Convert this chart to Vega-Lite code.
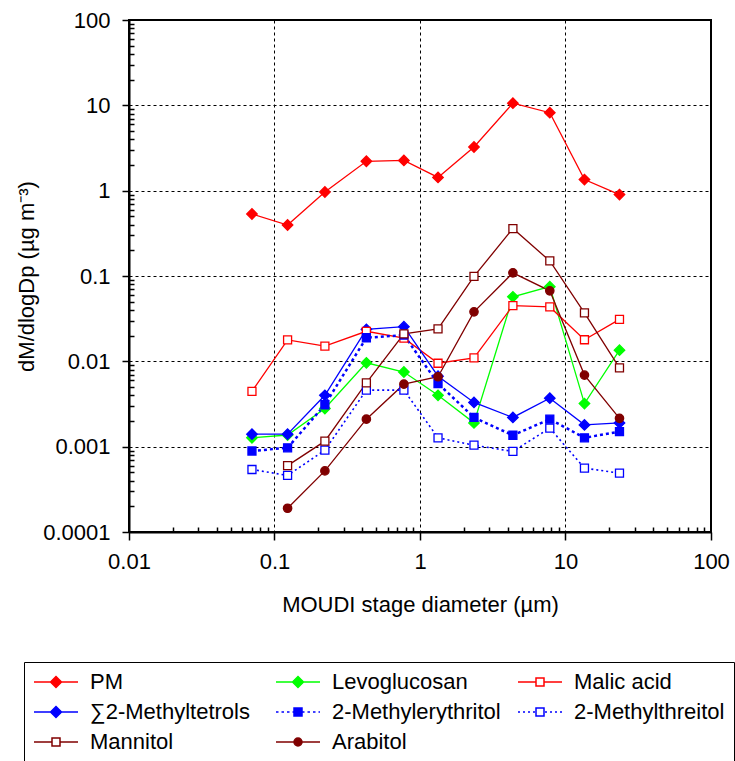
{
  "$schema": "https://vega.github.io/schema/vega-lite/v6.json",
  "autosize": {"type": "none"},
  "padding": {"left": 129, "top": 20, "right": 24, "bottom": 229},
  "width": 582,
  "height": 512,
  "background": "white",
  "config": {
    "font": "Liberation Sans",
    "view": {"stroke": "black", "strokeWidth": 2},
    "axis": {
      "labelFont": "Liberation Sans", "labelFontSize": 22, "labelColor": "black",
      "titleFont": "Liberation Sans", "titleFontSize": 22, "titleFontWeight": "normal", "titleColor": "black",
      "domainColor": "black", "domainWidth": 2, "tickColor": "black", "tickWidth": 1.5
    },
    "legend": {"labelFont": "Liberation Sans", "labelFontSize": 22, "labelColor": "black"}
  },
  "data": {"values": [
    {"s": "PM", "d": 0.07, "v": 0.533}, {"s": "PM", "d": 0.123, "v": 0.396}, {"s": "PM", "d": 0.222, "v": 0.965}, {"s": "PM", "d": 0.428, "v": 2.21}, {"s": "PM", "d": 0.775, "v": 2.26}, {"s": "PM", "d": 1.33, "v": 1.43}, {"s": "PM", "d": 2.35, "v": 3.25}, {"s": "PM", "d": 4.35, "v": 10.6}, {"s": "PM", "d": 7.8, "v": 8.2}, {"s": "PM", "d": 13.5, "v": 1.35}, {"s": "PM", "d": 23.5, "v": 0.9},
    {"s": "Levoglucosan", "d": 0.07, "v": 0.00127}, {"s": "Levoglucosan", "d": 0.123, "v": 0.00137}, {"s": "Levoglucosan", "d": 0.222, "v": 0.0028}, {"s": "Levoglucosan", "d": 0.428, "v": 0.0096}, {"s": "Levoglucosan", "d": 0.775, "v": 0.0075}, {"s": "Levoglucosan", "d": 1.33, "v": 0.004}, {"s": "Levoglucosan", "d": 2.35, "v": 0.0019}, {"s": "Levoglucosan", "d": 4.35, "v": 0.057}, {"s": "Levoglucosan", "d": 7.8, "v": 0.075}, {"s": "Levoglucosan", "d": 13.5, "v": 0.0032}, {"s": "Levoglucosan", "d": 23.5, "v": 0.0135},
    {"s": "Malic acid", "d": 0.07, "v": 0.00445}, {"s": "Malic acid", "d": 0.123, "v": 0.0178}, {"s": "Malic acid", "d": 0.222, "v": 0.0151}, {"s": "Malic acid", "d": 0.428, "v": 0.0225}, {"s": "Malic acid", "d": 0.775, "v": 0.0187}, {"s": "Malic acid", "d": 1.33, "v": 0.0095}, {"s": "Malic acid", "d": 2.35, "v": 0.011}, {"s": "Malic acid", "d": 4.35, "v": 0.045}, {"s": "Malic acid", "d": 7.8, "v": 0.0434}, {"s": "Malic acid", "d": 13.5, "v": 0.0179}, {"s": "Malic acid", "d": 23.5, "v": 0.031},
    {"s": "∑2-Methyltetrols", "d": 0.07, "v": 0.0014}, {"s": "∑2-Methyltetrols", "d": 0.123, "v": 0.0014}, {"s": "∑2-Methyltetrols", "d": 0.222, "v": 0.004}, {"s": "∑2-Methyltetrols", "d": 0.428, "v": 0.0237}, {"s": "∑2-Methyltetrols", "d": 0.775, "v": 0.0255}, {"s": "∑2-Methyltetrols", "d": 1.33, "v": 0.0067}, {"s": "∑2-Methyltetrols", "d": 2.35, "v": 0.0033}, {"s": "∑2-Methyltetrols", "d": 4.35, "v": 0.0022}, {"s": "∑2-Methyltetrols", "d": 7.8, "v": 0.0037}, {"s": "∑2-Methyltetrols", "d": 13.5, "v": 0.0018}, {"s": "∑2-Methyltetrols", "d": 23.5, "v": 0.0019},
    {"s": "2-Methylerythritol", "d": 0.07, "v": 0.00089}, {"s": "2-Methylerythritol", "d": 0.123, "v": 0.00097}, {"s": "2-Methylerythritol", "d": 0.222, "v": 0.0031}, {"s": "2-Methylerythritol", "d": 0.428, "v": 0.0189}, {"s": "2-Methylerythritol", "d": 0.775, "v": 0.0203}, {"s": "2-Methylerythritol", "d": 1.33, "v": 0.0055}, {"s": "2-Methylerythritol", "d": 2.35, "v": 0.0022}, {"s": "2-Methylerythritol", "d": 4.35, "v": 0.00136}, {"s": "2-Methylerythritol", "d": 7.8, "v": 0.0021}, {"s": "2-Methylerythritol", "d": 13.5, "v": 0.00127}, {"s": "2-Methylerythritol", "d": 23.5, "v": 0.0015},
    {"s": "2-Methylthreitol", "d": 0.07, "v": 0.00054}, {"s": "2-Methylthreitol", "d": 0.123, "v": 0.00046}, {"s": "2-Methylthreitol", "d": 0.222, "v": 0.00091}, {"s": "2-Methylthreitol", "d": 0.428, "v": 0.0046}, {"s": "2-Methylthreitol", "d": 0.775, "v": 0.0046}, {"s": "2-Methylthreitol", "d": 1.33, "v": 0.00127}, {"s": "2-Methylthreitol", "d": 2.35, "v": 0.00104}, {"s": "2-Methylthreitol", "d": 4.35, "v": 0.00088}, {"s": "2-Methylthreitol", "d": 7.8, "v": 0.00165}, {"s": "2-Methylthreitol", "d": 13.5, "v": 0.00056}, {"s": "2-Methylthreitol", "d": 23.5, "v": 0.00049},
    {"s": "Mannitol", "d": 0.123, "v": 0.0006}, {"s": "Mannitol", "d": 0.222, "v": 0.00116}, {"s": "Mannitol", "d": 0.428, "v": 0.0056}, {"s": "Mannitol", "d": 0.775, "v": 0.021}, {"s": "Mannitol", "d": 1.33, "v": 0.024}, {"s": "Mannitol", "d": 2.35, "v": 0.099}, {"s": "Mannitol", "d": 4.35, "v": 0.36}, {"s": "Mannitol", "d": 7.8, "v": 0.15}, {"s": "Mannitol", "d": 13.5, "v": 0.037}, {"s": "Mannitol", "d": 23.5, "v": 0.0084},
    {"s": "Arabitol", "d": 0.123, "v": 0.00019}, {"s": "Arabitol", "d": 0.222, "v": 0.00052}, {"s": "Arabitol", "d": 0.428, "v": 0.0021}, {"s": "Arabitol", "d": 0.775, "v": 0.0054}, {"s": "Arabitol", "d": 1.33, "v": 0.0066}, {"s": "Arabitol", "d": 2.35, "v": 0.038}, {"s": "Arabitol", "d": 4.35, "v": 0.109}, {"s": "Arabitol", "d": 7.8, "v": 0.067}, {"s": "Arabitol", "d": 13.5, "v": 0.0069}, {"s": "Arabitol", "d": 23.5, "v": 0.00215}
  ]},
  "resolve": {"scale": {"x": "independent", "y": "independent"}, "axis": {"x": "independent", "y": "independent"}},
  "layer": [
    {
      "layer": [
        {
          "transform": [{"filter": {"field": "s", "oneOf": ["PM", "Levoglucosan", "Malic acid", "∑2-Methyltetrols", "Mannitol", "Arabitol"]}}],
          "mark": {"type": "line", "strokeWidth": 1.3},
          "encoding": {
            "x": {"field": "d", "type": "quantitative", "scale": {"type": "log", "domain": [0.01, 100], "nice": false},
                  "axis": {"orient": "bottom", "values": [0.01, 0.1, 1, 10, 100], "format": "~g", "title": "MOUDI stage diameter (µm)",
                           "grid": true, "gridColor": "black", "gridDash": [3, 3], "gridWidth": 1, "tickSize": 8, "labelPadding": 11, "titlePadding": 22, "labelFlush": false}},
            "y": {"field": "v", "type": "quantitative", "scale": {"type": "log", "domain": [0.0001, 100], "nice": false},
                  "axis": {"orient": "left", "values": [0.0001, 0.001, 0.01, 0.1, 1, 10, 100], "format": "~g", "title": "dM/dlogDp (µg m⁻³)",
                           "grid": true, "gridColor": "black", "gridDash": [3, 3], "gridWidth": 1, "tickSize": 7, "labelPadding": 12, "titlePadding": 4, "labelFlush": false}},
            "stroke": {"field": "s", "type": "nominal",
                       "scale": {"domain": ["PM", "Levoglucosan", "Malic acid", "∑2-Methyltetrols", "2-Methylerythritol", "2-Methylthreitol", "Mannitol", "Arabitol"],
                                 "range": ["#FF0000", "#00FF00", "#FF0000", "#0000FF", "#0000FF", "#0000FF", "#800000", "#800000"]}}
          }
        },
        {
          "transform": [{"filter": {"field": "s", "equal": "2-Methylerythritol"}}],
          "mark": {"type": "line", "strokeWidth": 2.5, "strokeDash": [3, 3]},
          "encoding": {
            "x": {"field": "d", "type": "quantitative"},
            "y": {"field": "v", "type": "quantitative"},
            "stroke": {"field": "s", "type": "nominal"}
          }
        },
        {
          "transform": [{"filter": {"field": "s", "equal": "2-Methylthreitol"}}],
          "mark": {"type": "line", "strokeWidth": 1.6, "strokeDash": [2, 3]},
          "encoding": {
            "x": {"field": "d", "type": "quantitative"},
            "y": {"field": "v", "type": "quantitative"},
            "stroke": {"field": "s", "type": "nominal"}
          }
        },
        {
          "transform": [{"filter": {"field": "s", "oneOf": ["PM", "Levoglucosan", "∑2-Methyltetrols"]}}],
          "mark": {"type": "point", "shape": "diamond", "size": 110, "filled": true, "strokeWidth": 1.3, "opacity": 1},
          "encoding": {
            "x": {"field": "d", "type": "quantitative"},
            "y": {"field": "v", "type": "quantitative"},
            "stroke": {"field": "s", "type": "nominal"},
            "fill": {"field": "s", "type": "nominal",
                     "scale": {"domain": ["PM", "Levoglucosan", "Malic acid", "∑2-Methyltetrols", "2-Methylerythritol", "2-Methylthreitol", "Mannitol", "Arabitol"],
                               "range": ["#FF0000", "#00FF00", "#FFFFFF", "#0000FF", "#0000FF", "#FFFFFF", "#FFFFFF", "#800000"]}}
          }
        },
        {
          "transform": [{"filter": {"field": "s", "oneOf": ["Malic acid", "2-Methylerythritol", "2-Methylthreitol", "Mannitol"]}}],
          "mark": {"type": "point", "shape": "square", "size": 64, "filled": true, "strokeWidth": 1.3, "opacity": 1},
          "encoding": {
            "x": {"field": "d", "type": "quantitative"},
            "y": {"field": "v", "type": "quantitative"},
            "stroke": {"field": "s", "type": "nominal"},
            "fill": {"field": "s", "type": "nominal"}
          }
        },
        {
          "transform": [{"filter": {"field": "s", "equal": "Arabitol"}}],
          "mark": {"type": "point", "shape": "circle", "size": 70, "filled": true, "strokeWidth": 1.3, "opacity": 1},
          "encoding": {
            "x": {"field": "d", "type": "quantitative"},
            "y": {"field": "v", "type": "quantitative"},
            "stroke": {"field": "s", "type": "nominal"},
            "fill": {"field": "s", "type": "nominal"}
          }
        }
      ]
    },
    {
      "mark": {"type": "point", "filled": true, "strokeWidth": 1.5, "fillOpacity": 0, "strokeOpacity": 0, "size": 400},
      "encoding": {
        "x": {"field": "d", "type": "quantitative", "scale": {"type": "log", "domain": [0.01, 100], "nice": false},
              "axis": {"orient": "top", "offset": -512, "values": [0.02, 0.03, 0.04, 0.05, 0.06, 0.07, 0.08, 0.09, 0.2, 0.3, 0.4, 0.5, 0.6, 0.7, 0.8, 0.9, 2, 3, 4, 5, 6, 7, 8, 9, 20, 30, 40, 50, 60, 70, 80, 90],
                       "labels": false, "domain": false, "grid": false, "ticks": true, "tickSize": 5, "tickColor": "#000000", "tickOpacity": 1, "tickWidth": 1.5, "zindex": 2, "title": null}},
        "y": {"field": "v", "type": "quantitative", "scale": {"type": "log", "domain": [0.0001, 100], "nice": false},
              "axis": {"orient": "right", "offset": -582, "values": [0.0002, 0.0003, 0.0004, 0.0005, 0.0006, 0.0007, 0.0008, 0.0009, 0.002, 0.003, 0.004, 0.005, 0.006, 0.007, 0.008, 0.009, 0.02, 0.03, 0.04, 0.05, 0.06, 0.07, 0.08, 0.09, 0.2, 0.3, 0.4, 0.5, 0.6, 0.7, 0.8, 0.9, 2, 3, 4, 5, 6, 7, 8, 9, 20, 30, 40, 50, 60, 70, 80, 90],
                       "labels": false, "domain": false, "grid": false, "ticks": true, "tickSize": 5, "tickColor": "#000000", "tickOpacity": 1, "tickWidth": 1.5, "zindex": 2, "title": null}},
        "stroke": {"field": "s", "type": "nominal"},
        "fill": {"field": "s", "type": "nominal"},
        "shape": {"field": "s", "type": "nominal",
                  "scale": {"domain": ["PM", "Levoglucosan", "Malic acid", "∑2-Methyltetrols", "2-Methylerythritol", "2-Methylthreitol", "Mannitol", "Arabitol"],
                            "range": [
                              "M-1,0H3.4M0.65,0L1.2,-0.55L1.75,0L1.2,0.55Z",
                              "M-1,0H3.4M0.65,0L1.2,-0.55L1.75,0L1.2,0.55Z",
                              "M-1,0H0.8M1.6,0H3.4M0.8,-0.4H1.6V0.4H0.8Z",
                              "M-1,0H3.4M0.65,0L1.2,-0.55L1.75,0L1.2,0.55Z",
                              "M-1,0H-0.75M-0.45,0H-0.2M0.1,0H0.35M0.65,0H0.8M1.6,0H1.85M2.15,0H2.4M2.7,0H2.95M3.25,0H3.4M0.8,-0.4H1.6V0.4H0.8Z",
                              "M-1,0H-0.8M-0.5,0H-0.3M0,0H0.2M0.5,0H0.7M1.7,0H1.9M2.2,0H2.4M2.7,0H2.9M3.2,0H3.4M0.8,-0.4H1.6V0.4H0.8Z",
                              "M-1,0H0.8M1.6,0H3.4M0.8,-0.4H1.6V0.4H0.8Z",
                              "M-1,0H3.4M0.8,0A0.4,0.4 0 1,0 1.6,0A0.4,0.4 0 1,0 0.8,0Z"
                            ]},
                  "legend": {"title": null, "orient": "none", "legendX": -105, "legendY": 642, "columns": 3, "direction": "horizontal", "gridAlign": "all",
                             "columnPadding": 14, "rowPadding": 8, "padding": 9, "symbolSize": 400, "symbolStrokeWidth": 1.5, "symbolType": "circle",
                             "labelOffset": 35, "labelLimit": 400, "strokeColor": "black", "fillColor": "white",
                             "symbolOpacity": 1, "encode": {"symbols": {"update": {"opacity": {"value": 1}, "fillOpacity": {"value": 1}, "strokeOpacity": {"value": 1}, "strokeDash": {"value": [1, 0]}}}}}}
      }
    }
  ]
}
